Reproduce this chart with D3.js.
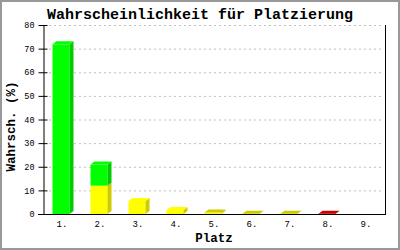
<!DOCTYPE html>
<html>
<head>
<meta charset="utf-8">
<script src="https://cdn.jsdelivr.net/npm/d3@7"></script>
<style>
  body { margin: 0; background: #fff; }
  svg { display: block; }
  text { font-family: "Liberation Mono", "DejaVu Sans Mono", monospace; }
</style>
</head>
<body>
<svg width="400" height="250"></svg>
<script>
// chart data
var categories = ["1.", "2.", "3.", "4.", "5.", "6.", "7.", "8.", "9."];
var yellowVals = [0, 12, 5.5, 1.7, 0.6, 0.15, 0.15, 0, 0];
var greenVals  = [71.8, 8.9, 0, 0, 0, 0, 0, 0, 0];
var redVals    = [0, 0, 0, 0, 0, 0, 0, 0.15, 0];
var yTicks = [0, 10, 20, 30, 40, 50, 60, 70, 80];

// colours for each series: front face and darker side face
var seriesInfo = [
  {key: "yellow", vals: yellowVals, front: "#ffff00", side: "#cccc00"},
  {key: "green",  vals: greenVals,  front: "#00ff00", side: "#00cc00"},
  {key: "red",    vals: redVals,    front: "#ff0000", side: "#cc0000"}
];

var svg = d3.select("svg");
var margin = {top: 25, right: 15, bottom: 36, left: 43};
var width = 400 - margin.left - margin.right,
    height = 250 - margin.top - margin.bottom;

// outer gray frame
svg.append("rect")
    .attr("x", 1).attr("y", 1)
    .attr("width", 398).attr("height", 248)
    .attr("fill", "none")
    .attr("stroke", "#999")
    .attr("stroke-width", 2);

var x = d3.scaleBand().domain(categories).range([0, width]);
var y = d3.scaleLinear().domain([0, 80]).range([height, 0]);

var g = svg.append("g")
    .attr("transform", "translate(" + margin.left + "," + margin.top + ")");

// dashed gridlines
g.selectAll(".grid")
  .data(yTicks.filter(function(d) { return d > 0; }))
  .enter().append("line")
    .attr("class", "grid")
    .attr("x1", 6).attr("x2", width - 1)
    .attr("y1", function(d) { return y(d) + 0.5; })
    .attr("y2", function(d) { return y(d) + 0.5; })
    .attr("stroke", "#c0c0c0")
    .attr("stroke-dasharray", "2,3");

// left axis with ticks crossing the axis line
var yAxis = g.append("g")
    .attr("transform", "translate(0.5,0)")
    .call(d3.axisLeft(y).tickValues(yTicks).tickSize(5).tickPadding(4).tickSizeOuter(0));
yAxis.select(".domain").attr("stroke", "#000");
yAxis.selectAll(".tick line").attr("x2", 4).attr("x1", -5);
yAxis.selectAll(".tick text")
    .attr("font-size", "8.5px")
    .attr("font-family", "'DejaVu Sans Mono', monospace");

// right frame line
g.append("line")
    .attr("x1", width + 0.5).attr("x2", width + 0.5)
    .attr("y1", 0).attr("y2", height)
    .attr("stroke", "#000");

// stacked 3d bars
var stackInput = categories.map(function(c, i) {
  var row = {cat: c};
  seriesInfo.forEach(function(s) { row[s.key] = s.vals[i]; });
  return row;
});
var stacked = d3.stack().keys(seriesInfo.map(function(s) { return s.key; }))(stackInput);

var barW = 17, dx = 4, dy = 3;
var bars = g.append("g");

categories.forEach(function(c, i) {
  // find the topmost non-empty segment for this bar
  var topIdx = -1;
  stacked.forEach(function(layer, k) { if (layer[i][1] - layer[i][0] > 0) topIdx = k; });

  stacked.forEach(function(layer, k) {
    var v0 = layer[i][0], v1 = layer[i][1];
    if (v1 - v0 <= 0) return;
    var s = seriesInfo[k];
    var x0 = x(c) + (x.bandwidth() - barW) / 2 - 1;
    var x1 = x0 + barW;
    var yb = y(v0), yt = y(v1);

    bars.append("rect")
        .attr("x", x0).attr("y", yt)
        .attr("width", barW).attr("height", yb - yt)
        .attr("fill", s.front);

    bars.append("polygon")
        .attr("points", [[x1, yb], [x1 + dx, yb - dy], [x1 + dx, yt - dy], [x1, yt]].join(" "))
        .attr("fill", s.side);

    if (k === topIdx) {
      var small = (yb - yt) < 2;
      bars.append("polygon")
          .attr("points", [[x0, yt], [x0 + dx, yt - dy], [x1 + dx, yt - dy], [x1, yt]].join(" "))
          .attr("fill", small ? s.side : s.front);
    }
  });
});

// bottom axis line (no ticks)
g.append("line")
    .attr("x1", -5).attr("x2", width + 1)
    .attr("y1", height + 0.5).attr("y2", height + 0.5)
    .attr("stroke", "#000");

// category labels
g.selectAll(".xlab")
  .data(categories)
  .enter().append("text")
    .attr("class", "xlab")
    .attr("x", function(d) { return x(d) + x.bandwidth() / 2; })
    .attr("y", height + 13)
    .attr("text-anchor", "middle")
    .attr("font-size", "9px")
    .attr("font-family", "'DejaVu Sans Mono', monospace")
    .text(function(d) { return d; });

// title and axis titles
svg.append("text")
    .attr("x", 200).attr("y", 19)
    .attr("text-anchor", "middle")
    .attr("font-size", "15px")
    .attr("font-weight", "bold")
    .text("Wahrscheinlichkeit für Platzierung");

svg.append("text")
    .attr("transform", "translate(15," + (margin.top + height / 2 + 7) + ") rotate(-90)")
    .attr("text-anchor", "middle")
    .attr("font-size", "12.5px")
    .attr("font-weight", "bold")
    .text("Wahrsch. (%)");

svg.append("text")
    .attr("x", margin.left + width / 2).attr("y", 242)
    .attr("text-anchor", "middle")
    .attr("font-size", "12.5px")
    .attr("font-weight", "bold")
    .text("Platz");
</script>
</body>
</html>
